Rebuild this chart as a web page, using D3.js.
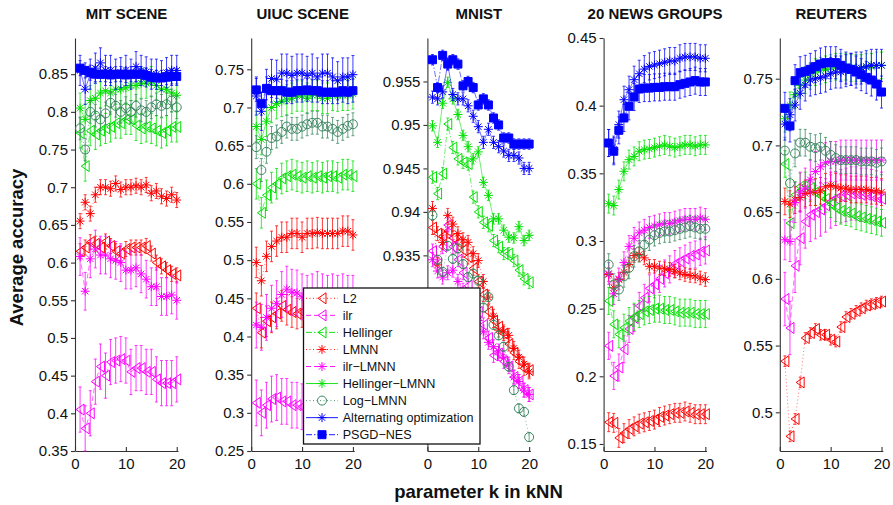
<!DOCTYPE html>
<html>
<head>
<meta charset="utf-8">
<script src="https://cdn.jsdelivr.net/npm/d3@7"></script>
<style>
  body { margin: 0; background: #fff; }
  svg { font-family: "Liberation Sans", Arial, Helvetica, sans-serif; }
</style>
</head>
<body>
<div id="chart"></div>
<script>
// ---- data ----
const datasets = ["MIT SCENE", "UIUC SCENE", "MNIST", "20 NEWS GROUPS", "REUTERS"];
const methods = ["L2", "ilr", "Hellinger", "LMNN", "ilr\u2212LMNN", "Hellinger\u2212LMNN",
  "Log\u2212LMNN", "Alternating optimization", "PSGD\u2212NES"];
const kValues = [1, 2, 3, 4, 5, 6, 7, 8, 9, 10, 11, 12, 13, 14, 15, 16, 17, 18, 19, 20];
const xTicks = [0, 10, 20];

const yDomains = [[0.35, 0.898], [0.25, 0.791], [0.9125, 0.96], [0.1448, 0.45], [0.471, 0.7805]];
// MNIST ticks below 0.935 sit behind the legend in the figure
const yTicks = [
  [0.35, 0.4, 0.45, 0.5, 0.55, 0.6, 0.65, 0.7, 0.75, 0.8, 0.85],
  [0.25, 0.3, 0.35, 0.4, 0.45, 0.5, 0.55, 0.6, 0.65, 0.7, 0.75],
  [0.935, 0.94, 0.945, 0.95, 0.955],
  [0.15, 0.2, 0.25, 0.3, 0.35, 0.4, 0.45],
  [0.5, 0.55, 0.6, 0.65, 0.7, 0.75]
];

// rows follow the order of `methods`
const mitScene = [
  [0.615,0.620,0.627,0.625,0.620,0.628,0.622,0.615,0.612,0.618,0.620,0.620,0.620,0.622,0.612,0.600,0.595,0.590,0.585,0.583],
  [0.405,0.380,0.400,0.442,0.462,0.450,0.468,0.470,0.472,0.470,0.455,0.460,0.460,0.455,0.455,0.445,0.440,0.440,0.440,0.445],
  [0.772,0.728,0.775,0.770,0.775,0.778,0.780,0.785,0.785,0.790,0.790,0.782,0.778,0.780,0.778,0.775,0.772,0.775,0.780,0.780],
  [0.655,0.680,0.665,0.690,0.700,0.700,0.698,0.705,0.697,0.700,0.700,0.702,0.700,0.703,0.692,0.695,0.688,0.685,0.690,0.683],
  [0.608,0.562,0.605,0.618,0.610,0.610,0.605,0.603,0.600,0.590,0.590,0.593,0.585,0.578,0.568,0.568,0.555,0.555,0.557,0.550],
  [0.805,0.790,0.815,0.818,0.825,0.828,0.825,0.830,0.830,0.832,0.835,0.835,0.838,0.838,0.840,0.835,0.830,0.830,0.825,0.822],
  [0.778,0.750,0.800,0.795,0.790,0.798,0.812,0.808,0.800,0.805,0.800,0.808,0.802,0.800,0.806,0.810,0.808,0.810,0.815,0.806],
  [0.855,0.830,0.850,0.858,0.865,0.855,0.855,0.850,0.852,0.855,0.850,0.860,0.855,0.853,0.850,0.850,0.848,0.852,0.855,0.855],
  [0.858,0.855,0.852,0.850,0.850,0.850,0.849,0.850,0.850,0.849,0.850,0.850,0.850,0.848,0.846,0.845,0.845,0.846,0.847,0.847]
];
const uiucScene = [
  [0.437,0.405,0.420,0.425,0.430,0.440,0.435,0.432,0.430,0.432,0.428,0.430,0.432,0.430,0.428,0.430,0.432,0.430,0.430,0.432],
  [0.313,0.300,0.310,0.318,0.320,0.315,0.315,0.310,0.310,0.308,0.310,0.312,0.310,0.308,0.310,0.312,0.310,0.310,0.308,0.310],
  [0.600,0.562,0.585,0.595,0.600,0.607,0.610,0.612,0.610,0.608,0.610,0.608,0.610,0.608,0.610,0.610,0.608,0.612,0.612,0.610],
  [0.497,0.473,0.505,0.518,0.525,0.530,0.530,0.535,0.535,0.530,0.535,0.535,0.536,0.535,0.535,0.535,0.535,0.538,0.538,0.533],
  [0.415,0.412,0.425,0.437,0.443,0.455,0.462,0.458,0.457,0.452,0.450,0.452,0.455,0.452,0.450,0.452,0.450,0.452,0.450,0.450],
  [0.675,0.658,0.682,0.700,0.705,0.708,0.710,0.712,0.715,0.715,0.712,0.716,0.716,0.712,0.712,0.716,0.715,0.716,0.716,0.718],
  [0.648,0.618,0.642,0.660,0.662,0.668,0.675,0.672,0.672,0.675,0.678,0.680,0.680,0.675,0.675,0.672,0.668,0.672,0.676,0.678],
  [0.715,0.695,0.725,0.738,0.737,0.745,0.745,0.742,0.745,0.745,0.742,0.745,0.740,0.745,0.745,0.740,0.735,0.740,0.740,0.743],
  [0.723,0.705,0.725,0.722,0.722,0.722,0.720,0.720,0.722,0.722,0.723,0.722,0.722,0.720,0.720,0.720,0.720,0.722,0.720,0.722]
];
const mnist = [
  [0.9382,0.9375,0.9372,0.9378,0.9370,0.9365,0.9356,0.9348,0.9335,0.9320,0.9305,0.9285,0.9275,0.9268,0.9260,0.9248,0.9238,0.9228,0.9220,0.9218],
  [0.9355,0.9340,0.9360,0.9385,0.9360,0.9345,0.9330,0.9315,0.9300,0.9285,0.9270,0.9255,0.9235,0.9237,0.9228,0.9222,0.9210,0.9205,0.9195,0.9190],
  [0.9440,0.9421,0.9444,0.9501,0.9474,0.9461,0.9457,0.9455,0.9417,0.9400,0.9388,0.9384,0.9367,0.9360,0.9352,0.9352,0.9344,0.9333,0.9323,0.9319],
  [0.9404,0.9339,0.9365,0.9396,0.9386,0.9375,0.9368,0.9365,0.9352,0.9344,0.9320,0.9302,0.9280,0.9264,0.9262,0.9258,0.9243,0.9233,0.9225,0.9216],
  [0.9345,0.9332,0.9325,0.9330,0.9333,0.9320,0.9310,0.9298,0.9285,0.9275,0.9262,0.9250,0.9245,0.9240,0.9232,0.9225,0.9210,0.9205,0.9195,0.9190],
  [0.9499,0.9480,0.9525,0.9549,0.9530,0.9512,0.9488,0.9475,0.9461,0.9469,0.9434,0.9419,0.9392,0.9392,0.9379,0.9371,0.9370,0.9383,0.9367,0.9373],
  [0.9396,0.9345,0.9331,0.9361,0.9346,0.9358,0.9340,0.9325,0.9329,0.9321,0.9290,0.9302,0.9270,0.9258,0.9245,0.9222,0.9195,0.9174,0.9170,0.9141],
  [0.9532,0.9530,0.9538,0.9570,0.9535,0.9530,0.9530,0.9522,0.9510,0.9498,0.9480,0.9495,0.9480,0.9475,0.9470,0.9465,0.9465,0.9462,0.9450,0.9450],
  [0.9575,0.9543,0.9580,0.9570,0.9575,0.9570,0.9545,0.9550,0.9543,0.9523,0.9530,0.9523,0.9508,0.9500,0.9485,0.9485,0.9478,0.9478,0.9478,0.9478]
];
const newsGroups = [
  [0.1661,0.1656,0.1545,0.1580,0.1610,0.1630,0.1650,0.1660,0.1670,0.1680,0.1700,0.1710,0.1720,0.1730,0.1730,0.1740,0.1730,0.1720,0.1720,0.1720],
  [0.2225,0.2003,0.2065,0.2200,0.2350,0.2430,0.2520,0.2580,0.2650,0.2680,0.2720,0.2760,0.2790,0.2830,0.2850,0.2870,0.2890,0.2900,0.2920,0.2930],
  [0.2557,0.2384,0.2310,0.2359,0.2408,0.2440,0.2460,0.2480,0.2490,0.2500,0.2500,0.2490,0.2490,0.2480,0.2470,0.2470,0.2470,0.2460,0.2460,0.2460],
  [0.2752,0.2654,0.2715,0.2768,0.2826,0.2892,0.2900,0.2875,0.2813,0.2813,0.2800,0.2795,0.2790,0.2777,0.2764,0.2752,0.2745,0.2741,0.2727,0.2715],
  [0.2760,0.2610,0.2720,0.2840,0.2960,0.3020,0.3060,0.3080,0.3100,0.3110,0.3120,0.3130,0.3130,0.3140,0.3150,0.3160,0.3160,0.3160,0.3170,0.3160],
  [0.3276,0.3262,0.3380,0.3515,0.3601,0.3625,0.3663,0.3675,0.3680,0.3690,0.3700,0.3710,0.3700,0.3690,0.3700,0.3710,0.3710,0.3700,0.3710,0.3710],
  [0.2826,0.2678,0.2641,0.2739,0.2801,0.2887,0.2924,0.2973,0.3010,0.3043,0.3060,0.3070,0.3070,0.3080,0.3090,0.3100,0.3110,0.3100,0.3090,0.3090],
  [0.3724,0.3675,0.3860,0.4044,0.4118,0.4192,0.4236,0.4270,0.4290,0.4300,0.4310,0.4320,0.4330,0.4330,0.4350,0.4360,0.4360,0.4360,0.4350,0.4350],
  [0.3724,0.3663,0.3818,0.3909,0.3995,0.4064,0.4123,0.4130,0.4130,0.4135,0.4135,0.4140,0.4140,0.4140,0.4155,0.4165,0.4175,0.4185,0.4175,0.4175]
];
const reuters = [
  [0.5383,0.4820,0.4950,0.5224,0.5557,0.5594,0.5624,0.5581,0.5581,0.5544,0.5530,0.5639,0.5714,0.5738,0.5760,0.5780,0.5800,0.5810,0.5820,0.5830],
  [0.5849,0.5632,0.6098,0.6305,0.6430,0.6480,0.6500,0.6520,0.6550,0.6580,0.6600,0.6620,0.6630,0.6640,0.6640,0.6630,0.6630,0.6620,0.6610,0.6600],
  [0.6861,0.6418,0.6630,0.6692,0.6700,0.6680,0.6650,0.6620,0.6600,0.6560,0.6530,0.6510,0.6500,0.6490,0.6470,0.6460,0.6450,0.6440,0.6430,0.6420],
  [0.6580,0.6560,0.6590,0.6610,0.6640,0.6650,0.6650,0.6660,0.6690,0.6700,0.6690,0.6680,0.6680,0.6670,0.6670,0.6670,0.6670,0.6660,0.6660,0.6650],
  [0.6293,0.6280,0.6572,0.6650,0.6680,0.6742,0.6804,0.6840,0.6870,0.6880,0.6880,0.6890,0.6890,0.6890,0.6890,0.6890,0.6890,0.6890,0.6890,0.6890],
  [0.7200,0.7300,0.7380,0.7450,0.7490,0.7520,0.7550,0.7560,0.7570,0.7580,0.7590,0.7590,0.7590,0.7580,0.7580,0.7580,0.7590,0.7590,0.7600,0.7600],
  [0.6961,0.6717,0.6940,0.7021,0.7020,0.6990,0.6980,0.6990,0.6960,0.6929,0.6905,0.6890,0.6890,0.6890,0.6890,0.6880,0.6880,0.6880,0.6870,0.6880],
  [0.7160,0.7230,0.7303,0.7391,0.7453,0.7490,0.7500,0.7510,0.7520,0.7540,0.7550,0.7550,0.7560,0.7570,0.7580,0.7580,0.7590,0.7600,0.7600,0.7600],
  [0.7278,0.7146,0.7485,0.7545,0.7555,0.7570,0.7590,0.7610,0.7620,0.7620,0.7620,0.7600,0.7580,0.7570,0.7550,0.7530,0.7510,0.7490,0.7460,0.7400]
];

// estimated half-width of the error bars, one per method
const mitErr = [0.010, 0.030, 0.020, 0.010, 0.025, 0.020, 0.015, 0.020, 0.010];
const uiucErr = [0.020, 0.030, 0.020, 0.020, 0.030, 0.020, 0.015, 0.025, 0.015];
const mnistErr = [0.0008, 0.0008, 0.0007, 0.0008, 0.0008, 0.0006, 0.0005, 0.0007, 0.0006];
const newsErr = [0.007, 0.010, 0.010, 0.005, 0.008, 0.007, 0.008, 0.010, 0.010];
const reutersErr = [0.004, 0.020, 0.010, 0.010, 0.015, 0.010, 0.010, 0.012, 0.012];

const panelValues = [mitScene, uiucScene, mnist, newsGroups, reuters];
const panelErrors = [mitErr, uiucErr, mnistErr, newsErr, reutersErr];

// ---- styles ----
const styles = [
  { color: "#ff0000", dash: "1,2.5",       marker: "tri" },
  { color: "#ff00ff", dash: "5,3",         marker: "tri" },
  { color: "#00e000", dash: "6,2,1.5,2",   marker: "tri" },
  { color: "#ff0000", dash: "1,2.5",       marker: "star" },
  { color: "#ff00ff", dash: "5,3",         marker: "star" },
  { color: "#00e000", dash: null,          marker: "star" },
  { color: "#3a8760", dash: "1,2.5",       marker: "circle" },
  { color: "#0000ff", dash: null,          marker: "star" },
  { color: "#0000ff", dash: "6,2,1.5,2",   marker: "square" }
];

const markerPath = {
  tri: "M-4,0L4,-5.5L4,5.5Z",
  star: "M0,-4.5V4.5M-4.5,0H4.5M-3.2,-3.2L3.2,3.2M-3.2,3.2L3.2,-3.2",
  circle: "M4.5,0A4.5,4.5 0 1,1 -4.5,0A4.5,4.5 0 1,1 4.5,0Z",
  square: "M-4,-4H4V4H-4Z"
};

const width = 893, height = 505;
const plotTop = 38, plotBottom = 451, panelW = 103;

const svg = d3.select("#chart").append("svg")
  .attr("width", width)
  .attr("height", height);

function drawMarker(sel, st) {
  sel.attr("d", markerPath[st.marker])
    .attr("fill", st.marker === "square" ? st.color : "none")
    .attr("stroke", st.color)
    .attr("stroke-width", 1);
}

datasets.forEach((name, pi) => {
  const x0 = 75 + pi * 176.2;
  const x = d3.scaleLinear().domain([0, 20.25]).range([x0, x0 + panelW]);
  const y = d3.scaleLinear().domain(yDomains[pi]).range([plotBottom, plotTop]);
  const panel = svg.append("g").attr("class", "panel");

  // axes
  const yAxis = panel.append("g")
    .attr("transform", `translate(${x0},0)`)
    .call(d3.axisLeft(y).tickValues(yTicks[pi]).tickSizeInner(4).tickSizeOuter(0)
      .tickPadding(3).tickFormat(d => String(d)));
  const xAxis = panel.append("g")
    .attr("transform", `translate(0,${plotBottom})`)
    .call(d3.axisBottom(x).tickValues(xTicks).tickSizeInner(-4).tickSizeOuter(0)
      .tickPadding(7).tickFormat(d => String(d)));
  [yAxis, xAxis].forEach(a => {
    a.selectAll("path, line").attr("stroke", "#333").attr("stroke-width", 1.1);
    a.selectAll("text").attr("font-size", "15px").attr("fill", "#111")
      .attr("font-family", "'Liberation Sans', Arial, sans-serif");
  });

  // series
  panelValues[pi].forEach((vals, si) => {
    const st = styles[si];
    const err = panelErrors[pi][si];
    const pts = kValues.map((k, i) => ({ k: k, v: vals[i] }));
    const g = panel.append("g").attr("class", "series");

    g.append("path")
      .datum(pts)
      .attr("fill", "none")
      .attr("stroke", st.color)
      .attr("stroke-width", 0.8)
      .attr("stroke-opacity", 0.7)
      .attr("stroke-dasharray", st.dash)
      .attr("d", d3.line().x(d => x(d.k)).y(d => y(d.v)));

    // error bars
    g.selectAll(".err")
      .data(pts)
      .join("path")
      .attr("class", "err")
      .attr("fill", "none")
      .attr("stroke", st.color)
      .attr("stroke-width", 0.9)
      .attr("stroke-opacity", 0.85)
      .attr("d", d => {
        const cx = x(d.k), y1 = y(d.v - err), y2 = y(d.v + err);
        return `M${cx},${y1}V${y2}M${cx - 1.5},${y1}H${cx + 1.5}M${cx - 1.5},${y2}H${cx + 1.5}`;
      });

    g.selectAll(".mk")
      .data(pts)
      .join("path")
      .attr("class", "mk")
      .attr("transform", d => `translate(${x(d.k)},${y(d.v)})`)
      .call(drawMarker, st);
  });

  // title
  svg.append("text")
    .attr("x", x0 + panelW / 2)
    .attr("y", 19)
    .attr("text-anchor", "middle")
    .attr("font-size", "15px")
    .attr("font-weight", "bold")
    .attr("fill", "#111")
    .text(name);
});

// axis labels
svg.append("text")
  .attr("transform", "translate(23,247.5) rotate(-90)")
  .attr("text-anchor", "middle")
  .attr("font-size", "18.5px")
  .attr("font-weight", "bold")
  .attr("fill", "#111")
  .text("Average accuracy");

svg.append("text")
  .attr("x", 478.5)
  .attr("y", 498)
  .attr("text-anchor", "middle")
  .attr("font-size", "18.5px")
  .attr("font-weight", "bold")
  .attr("fill", "#111")
  .text("parameter k in kNN");

// legend
const legend = svg.append("g").attr("class", "legend");
legend.append("rect")
  .attr("x", 303.5)
  .attr("y", 288)
  .attr("width", 176.5)
  .attr("height", 156)
  .attr("fill", "#fff")
  .attr("stroke", "#111")
  .attr("stroke-width", 1.3);

methods.forEach((m, i) => {
  const st = styles[i];
  const ly = 298.3 + i * 17.05;
  legend.append("line")
    .attr("x1", 306).attr("x2", 338)
    .attr("y1", ly).attr("y2", ly)
    .attr("stroke", st.color)
    .attr("stroke-width", 0.9)
    .attr("stroke-dasharray", st.dash);
  legend.append("path")
    .attr("transform", `translate(322,${ly})`)
    .call(drawMarker, st);
  legend.append("text")
    .attr("x", 342.7)
    .attr("y", ly + 4.5)
    .attr("font-size", "12.6px")
    .attr("fill", "#111")
    .text(m);
});
</script>
</body>
</html>
